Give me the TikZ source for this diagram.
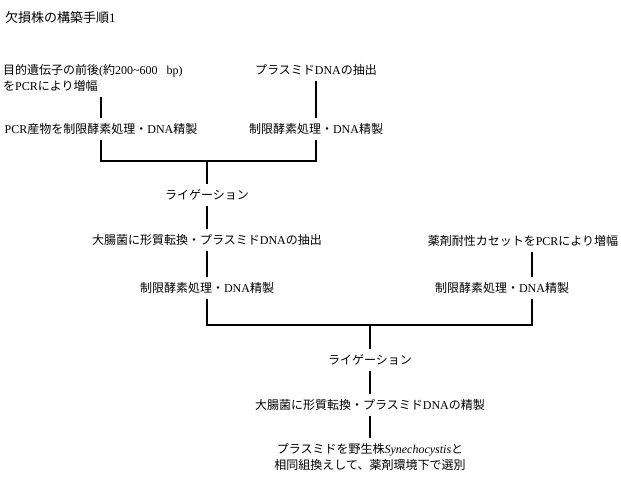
\documentclass[tikz,border=0pt]{standalone}
\usepackage{fontspec}
\setmainfont{Liberation Serif}
\newfontfamily\jp{Noto Sans CJK JP}
\usetikzlibrary{calc}
\tikzset{
  txt/.style={font=\fontsize{12}{16}\selectfont, inner xsep=3pt,
    inner ysep=5pt, align=center},
  ttl/.style={txt, font=\fontsize{13}{16}\selectfont, anchor=west},
  link/.style={line width=1.5pt, color=black}
}

\begin{document}
\begin{tikzpicture}[x=1pt, y=-1pt]
  \useasboundingbox (0,0) rectangle (621,490);
  % Title
  \node[ttl] (title) at (2,18) {{\jp 欠損株の構築手順}1};
  % First stage
  \node[txt, align=left, anchor=west] (gene) at (0,78)
    {{\jp 目的遺伝子の前後}({\jp 約}200\textasciitilde600\hspace{9pt}bp)\\{\jp を}PCR{\jp により増幅}};
  \node[txt] (plasmid) at (316,70) {{\jp プラスミド}DNA{\jp の抽出}};
  \node[txt] (pcr) at (101,129) {PCR{\jp 産物を制限酵素処理・}DNA{\jp 精製}};
  \node[txt] (enz1) at (316,129) {{\jp 制限酵素処理・}DNA{\jp 精製}};
  \coordinate (j1) at (207,161);
  \node[txt] (lig1) at (207,195) {{\jp ライゲーション}};
  \node[txt] (ecoli1) at (207,240) {{\jp 大腸菌に形質転換・プラスミド}DNA{\jp の抽出}};
  \node[txt] (enz2) at (207,288) {{\jp 制限酵素処理・}DNA{\jp 精製}};
  % Second stage
  \node[txt] (drug) at (523,241) {{\jp 薬剤耐性カセットを}PCR{\jp により増幅}};
  \node[txt] (enz3) at (502,288) {{\jp 制限酵素処理・}DNA{\jp 精製}};
  \coordinate (rcol) at (532,0);
  \coordinate (j2) at (370,325);
  \node[txt] (lig2) at (370,360) {{\jp ライゲーション}};
  \node[txt] (ecoli2) at (370,405) {{\jp 大腸菌に形質転換・プラスミド}DNA{\jp の精製}};
  \node[txt] (final) at (370,457)
    {{\jp プラスミドを野生株}\textit{Synechocystis}{\jp と}\\{\jp 相同組換えして、薬剤環境下で選別}};
  % Connectors
  \draw[link] (pcr.north |- gene.south) -- (pcr.north);
  \draw[link] (plasmid.south) -- (enz1.north);
  \draw[link] (pcr.south) |- (j1) -| (enz1.south);
  \draw[link] (j1) -- (lig1.north);
  \draw[link] (lig1.south) -- (ecoli1.north);
  \draw[link] (ecoli1.south) -- (enz2.north);
  \draw[link] (drug.south -| rcol) -- (enz3.north -| rcol);
  \draw[link] (enz2.south) |- (j2) -| (enz3.south -| rcol);
  \draw[link] (j2) -- (lig2.north);
  \draw[link] (lig2.south) -- (ecoli2.north);
  \draw[link] (ecoli2.south) -- (final.north);
\end{tikzpicture}
\end{document}
